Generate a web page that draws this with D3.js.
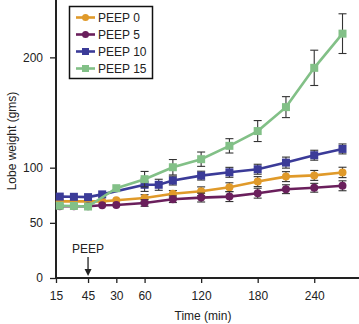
<!DOCTYPE html>
<html>
<head>
<meta charset="utf-8">
<script src="https://cdn.jsdelivr.net/npm/d3@7"></script>
<style>
  html, body { margin: 0; padding: 0; background: #fff; }
  svg { display: block; font-family: "Liberation Sans", Arial, sans-serif; }
  .axis path, .axis line { stroke: #222; }
  .axis text { fill: #222; font-size: 12px; }
</style>
</head>
<body>
<div id="chart"></div>
<script>
// time in minutes relative to PEEP start (pre-PEEP baseline is negative)
const times = [-30, -15, 0, 15, 30, 60, 75, 90, 120, 150, 180, 210, 240, 270];

const seriesNames = ['PEEP 0', 'PEEP 5', 'PEEP 10', 'PEEP 15'];
const peep0  = [69.5, 69.5, 69.5, 69.5, 70.5, 72.5, null, 76.3, 78.6, 82.3, 87.4, 91.9, 93.0, 95.7];
const peep5  = [65.0, 65.0, 65.0, 66.0, 66.2, 68.0, null, 71.4, 72.9, 73.8, 76.9, 80.5, 81.8, 83.6];
const peep10 = [73.8, 73.6, 73.3, 75.8, null, 84.5, 84.5, 88.3, 92.8, 95.8, 98.6, 104.6, 111.3, 117.0];
const peep15 = [65.5, 65.3, 64.8, null, 81.4, 89.6, null, 100.4, 107.7, 119.8, 133.2, 154.9, 190.5, 221.5];

const err0  = [0, 0, 0, 0, 0, 3, null, 3, 4, 4, 4.5, 4.5, 4.5, 4.7];
const err5  = [0, 0, 0, 0, 0, 3, null, 3, 4, 4.5, 4.5, 4, 4, 4.5];
const err10 = [0, 0, 0, 0, null, 6, 5, 4, 4, 4.5, 4.5, 5, 4.5, 4.5];
const err15 = [0, 0, 0, null, 0, 7, null, 7, 6.5, 6.5, 9.5, 9.5, 16, 18];

const xTickValues = [-34, 0, 30, 60, 120, 180, 240];
const xTickLabels = ['15', '45', '30', '60', '120', '180', '240'];
const yTickValues = [0, 50, 100, 200];

const W = 359, H = 324;
const svg = d3.select('#chart').append('svg').attr('width', W).attr('height', H);

const x = d3.scaleLinear().domain([-34, 287.5]).range([56, 359]);
const y = d3.scaleLinear().domain([0, 252]).range([278, 0]);

// axes
const xAxis = svg.append('g').attr('class', 'axis').attr('transform', 'translate(0,278)')
  .call(d3.axisBottom(x).tickValues(xTickValues).tickSize(5).tickPadding(8)
    .tickFormat((d, i) => xTickLabels[i]));
const yAxis = svg.append('g').attr('class', 'axis').attr('transform', 'translate(56,0)')
  .call(d3.axisLeft(y).tickValues(yTickValues).tickSize(6).tickPadding(7));
svg.selectAll('.axis .domain').attr('d', null);
svg.append('line').attr('x1', 56).attr('x2', 359).attr('y1', 278).attr('y2', 278)
  .attr('stroke', '#222').attr('stroke-width', 2);
svg.append('line').attr('x1', 56).attr('x2', 56).attr('y1', 0).attr('y2', 278)
  .attr('stroke', '#222').attr('stroke-width', 2);
svg.selectAll('.axis .tick line').attr('stroke-width', 1.3);

// axis titles
svg.append('text').attr('x', 203).attr('y', 320).attr('text-anchor', 'middle')
  .attr('font-size', 12).attr('fill', '#222').text('Time (min)');
svg.append('text').attr('transform', 'translate(16,141) rotate(-90)').attr('text-anchor', 'middle')
  .attr('font-size', 12).attr('fill', '#222').text('Lobe weight (gms)');

// PEEP marker
svg.append('text').attr('x', x(0)).attr('y', 253).attr('text-anchor', 'middle')
  .attr('font-size', 12).attr('fill', '#222').text('PEEP');
svg.append('line').attr('x1', x(0)).attr('x2', x(0)).attr('y1', 257).attr('y2', 272)
  .attr('stroke', '#222').attr('stroke-width', 1.3);
svg.append('path').attr('d', `M${x(0) - 3.5},${269} L${x(0) + 3.5},${269} L${x(0)},${276} Z`)
  .attr('fill', '#222');

const series = [
  {name: seriesNames[0], values: peep0,  errs: err0,  color: '#e09a2a', shape: 'circle'},
  {name: seriesNames[1], values: peep5,  errs: err5,  color: '#6a1f5c', shape: 'circle'},
  {name: seriesNames[2], values: peep10, errs: err10, color: '#3b3b98', shape: 'square'},
  {name: seriesNames[3], values: peep15, errs: err15, color: '#82c087', shape: 'square'}
];

const line = d3.line().x(d => x(d.t)).y(d => y(d.v));

series.forEach(s => {
  const pts = times.map((t, i) => ({t, v: s.values[i], e: s.errs[i]})).filter(d => d.v != null);
  const g = svg.append('g');
  g.append('path').datum(pts).attr('d', line).attr('fill', 'none')
    .attr('stroke', s.color).attr('stroke-width', 2.6);
  const eb = g.selectAll('.eb').data(pts.filter(d => d.e > 0)).enter().append('g');
  eb.append('line').attr('x1', d => x(d.t)).attr('x2', d => x(d.t))
    .attr('y1', d => y(d.v + d.e)).attr('y2', d => y(d.v - d.e))
    .attr('stroke', '#333').attr('stroke-width', 1.1);
  [1, -1].forEach(sg => {
    eb.append('line').attr('x1', d => x(d.t) - 4).attr('x2', d => x(d.t) + 4)
      .attr('y1', d => y(d.v + sg * d.e)).attr('y2', d => y(d.v + sg * d.e))
      .attr('stroke', '#333').attr('stroke-width', 1.1);
  });
  if (s.shape === 'circle') {
    g.selectAll('.m').data(pts).enter().append('circle')
      .attr('cx', d => x(d.t)).attr('cy', d => y(d.v)).attr('r', 4).attr('fill', s.color);
  } else {
    g.selectAll('.m').data(pts).enter().append('rect')
      .attr('x', d => x(d.t) - 4).attr('y', d => y(d.v) - 4)
      .attr('width', 8).attr('height', 8).attr('fill', s.color);
  }
});

// legend
const lg = svg.append('g');
lg.append('rect').attr('x', 69.5).attr('y', 6.5).attr('width', 83).attr('height', 72)
  .attr('fill', '#fff').attr('stroke', '#111').attr('stroke-width', 1.5);
series.forEach((s, i) => {
  const cy = 17.5 + i * 17;
  lg.append('line').attr('x1', 76).attr('x2', 95).attr('y1', cy).attr('y2', cy)
    .attr('stroke', s.color).attr('stroke-width', 2.6);
  if (s.shape === 'circle') {
    lg.append('circle').attr('cx', 85.5).attr('cy', cy).attr('r', 3.5).attr('fill', s.color);
  } else {
    lg.append('rect').attr('x', 82).attr('y', cy - 3.5).attr('width', 7).attr('height', 7).attr('fill', s.color);
  }
  lg.append('text').attr('x', 98).attr('y', cy + 4.3).attr('font-size', 12).attr('fill', '#222').text(s.name);
});
</script>
</body>
</html>
